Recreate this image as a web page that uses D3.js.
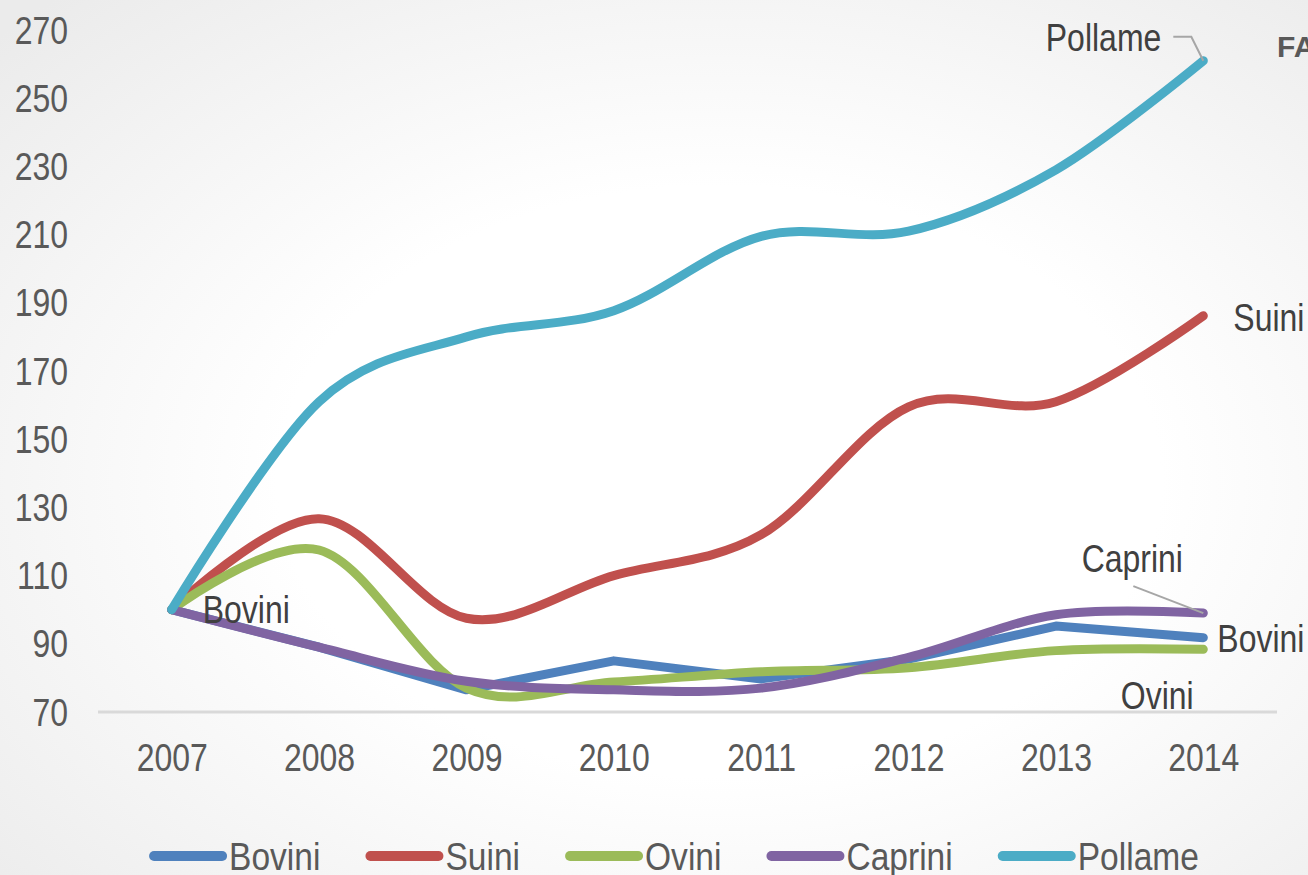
<!DOCTYPE html>
<html>
<head>
<meta charset="utf-8">
<script src="https://cdn.jsdelivr.net/npm/d3@7"></script>
<style>
  html, body { margin: 0; padding: 0; background: #fff; }
  svg { display: block; }
  text { font-family: "Liberation Sans", Arial, sans-serif; }
</style>
</head>
<body>
<svg id="chart" width="1308" height="875"></svg>
<script>
const years = ["2007", "2008", "2009", "2010", "2011", "2012", "2013", "2014"];
const yTicks = [70, 90, 110, 130, 150, 170, 190, 210, 230, 250, 270];
const seriesNames = ["Bovini", "Suini", "Ovini", "Caprini", "Pollame"];
const bovini  = [100, 89, 76.5, 85, 79.7, 85.5, 95.2, 91.8];
const suini   = [100, 126.7, 97.5, 110, 122, 159.5, 161, 186.2];
const ovini   = [100, 117.5, 77, 78.8, 81.8, 83, 88, 88.4];
const caprini = [100, 89, 79, 76.5, 77, 86, 98.5, 99];
const pollame = [100, 161, 180, 187.7, 209.5, 211, 229, 261];
const colors = ["#4F81BD", "#C0504D", "#9BBB59", "#8064A2", "#4BACC6"];

const series = [
  { name: seriesNames[0], values: bovini,  color: colors[0], smooth: false },
  { name: seriesNames[1], values: suini,   color: colors[1], smooth: true },
  { name: seriesNames[2], values: ovini,   color: colors[2], smooth: true },
  { name: seriesNames[3], values: caprini, color: colors[3], smooth: true },
  { name: seriesNames[4], values: pollame, color: colors[4], smooth: true }
];

const K = 0.82; // horizontal condensing (narrow font look)
function narrow(sel, k) {
  const kk = k || K;
  sel.each(function () {
    const t = d3.select(this);
    const x0 = +t.attr("x") || 0, y0 = +t.attr("y") || 0;
    t.attr("transform", `translate(${x0},${y0}) scale(${kk},1) translate(${-x0},${-y0})`);
  });
}

const svg = d3.select("#chart");
const W = 1308, H = 875;

const defs = svg.append("defs");
const rg = defs.append("radialGradient").attr("id", "bg")
  .attr("cx", "0.55").attr("cy", "0.55").attr("r", "0.75");
rg.append("stop").attr("offset", "0.45").attr("stop-color", "#ffffff");
rg.append("stop").attr("offset", "1").attr("stop-color", "#ebebeb");
svg.append("rect").attr("width", W).attr("height", H).attr("fill", "url(#bg)");

const x = d3.scalePoint().domain(years).range([98, 1277]).padding(0.5);
const y = d3.scaleLinear().domain([70, 270]).range([712, 30]);

// Y tick labels
const yAxis = d3.axisLeft(y).tickValues(yTicks).tickSize(0).tickPadding(0);
const gy = svg.append("g").call(yAxis);
gy.select(".domain").remove();
gy.selectAll(".tick").attr("transform", d => `translate(0,${y(d)})`);
gy.selectAll("text").attr("font-size", 39).attr("fill", "#595959")
  .attr("font-family", null).attr("x", 68).attr("y", 0).attr("dy", "0.35em").call(narrow);

// X axis baseline and labels
const xAxis = d3.axisBottom(x).tickSize(0).tickPadding(0);
const gx = svg.append("g").attr("transform", "translate(0,712)").call(xAxis);
gx.select(".domain").attr("stroke", "#d9d9d9").attr("stroke-width", 3)
  .attr("d", "M98,0H1277");
gx.selectAll("text").attr("font-size", 39).attr("fill", "#595959")
  .attr("font-family", null).attr("x", 0).attr("y", 45).attr("dy", "0.35em").call(narrow);

// lines
const lineLinear = d3.line().x((d, i) => x(years[i])).y(d => y(d)).curve(d3.curveLinear);
const lineSmooth = d3.line().x((d, i) => x(years[i])).y(d => y(d)).curve(d3.curveCardinal.tension(0));
svg.append("g").selectAll("path").data(series).join("path")
  .attr("d", s => (s.smooth ? lineSmooth : lineLinear)(s.values))
  .attr("fill", "none")
  .attr("stroke", s => s.color)
  .attr("stroke-width", 9)
  .attr("stroke-linecap", "round")
  .attr("stroke-linejoin", "round");

// data labels
const lx = x(years[years.length - 1]);
const labels = svg.append("g").attr("font-size", 39).attr("fill", "#404040");

const pY = y(pollame[7]);
svg.append("polyline")
  .attr("points", [[lx - 30, pY - 24], [lx - 12, pY - 24], [lx, pY]].map(p => p.join(",")).join(" "))
  .attr("fill", "none").attr("stroke", "#a6a6a6").attr("stroke-width", 2);
labels.append("text").attr("x", lx - 42).attr("y", pY - 23).attr("dy", "0.35em")
  .attr("text-anchor", "end").text("Pollame");

labels.append("text").attr("x", lx + 30).attr("y", y(suini[7]) + 2).attr("dy", "0.35em").text("Suini");

const cY = y(caprini[7]);
svg.append("line").attr("x1", lx - 70).attr("y1", cY - 27).attr("x2", lx).attr("y2", cY)
  .attr("stroke", "#a6a6a6").attr("stroke-width", 2);
labels.append("text").attr("x", lx - 71).attr("y", cY - 55).attr("dy", "0.35em")
  .attr("text-anchor", "middle").text("Caprini");

labels.append("text").attr("x", lx + 14).attr("y", y(bovini[7]) + 1).attr("dy", "0.35em").text("Bovini");

labels.append("text").attr("x", lx - 46).attr("y", y(ovini[7]) + 46).attr("dy", "0.35em")
  .attr("text-anchor", "middle").text("Ovini");

labels.append("text").attr("x", x(years[0]) + 31).attr("y", y(bovini[0])).attr("dy", "0.35em").text("Bovini");
labels.selectAll("text").call(narrow);

// FA (cut off text at top right, as in the source)
svg.append("text").attr("x", 1277).attr("y", 46).attr("dy", "0.35em")
  .attr("font-weight", "bold").attr("font-size", 30).attr("fill", "#595959").text("FA");

// legend
const LK = 0.86;
const legend = svg.append("g").attr("font-size", 39).attr("fill", "#595959");
const items = [];
series.forEach(s => {
  const g = legend.append("g");
  g.append("line").attr("x1", 5).attr("x2", 73).attr("y1", 0).attr("y2", 0)
    .attr("stroke", s.color).attr("stroke-width", 10).attr("stroke-linecap", "round");
  const t = g.append("text").attr("x", 80).attr("y", 0).attr("dy", "0.35em").text(s.name);
  const w = 80 + LK * t.node().getComputedTextLength();
  t.call(narrow, LK);
  items.push({ g, w });
});
const gap = 45;
const total = d3.sum(items, d => d.w) + gap * (items.length - 1);
let start = 674 - total / 2;
items.forEach(it => {
  it.g.attr("transform", `translate(${start},856)`);
  start += it.w + gap;
});
</script>
</body>
</html>
